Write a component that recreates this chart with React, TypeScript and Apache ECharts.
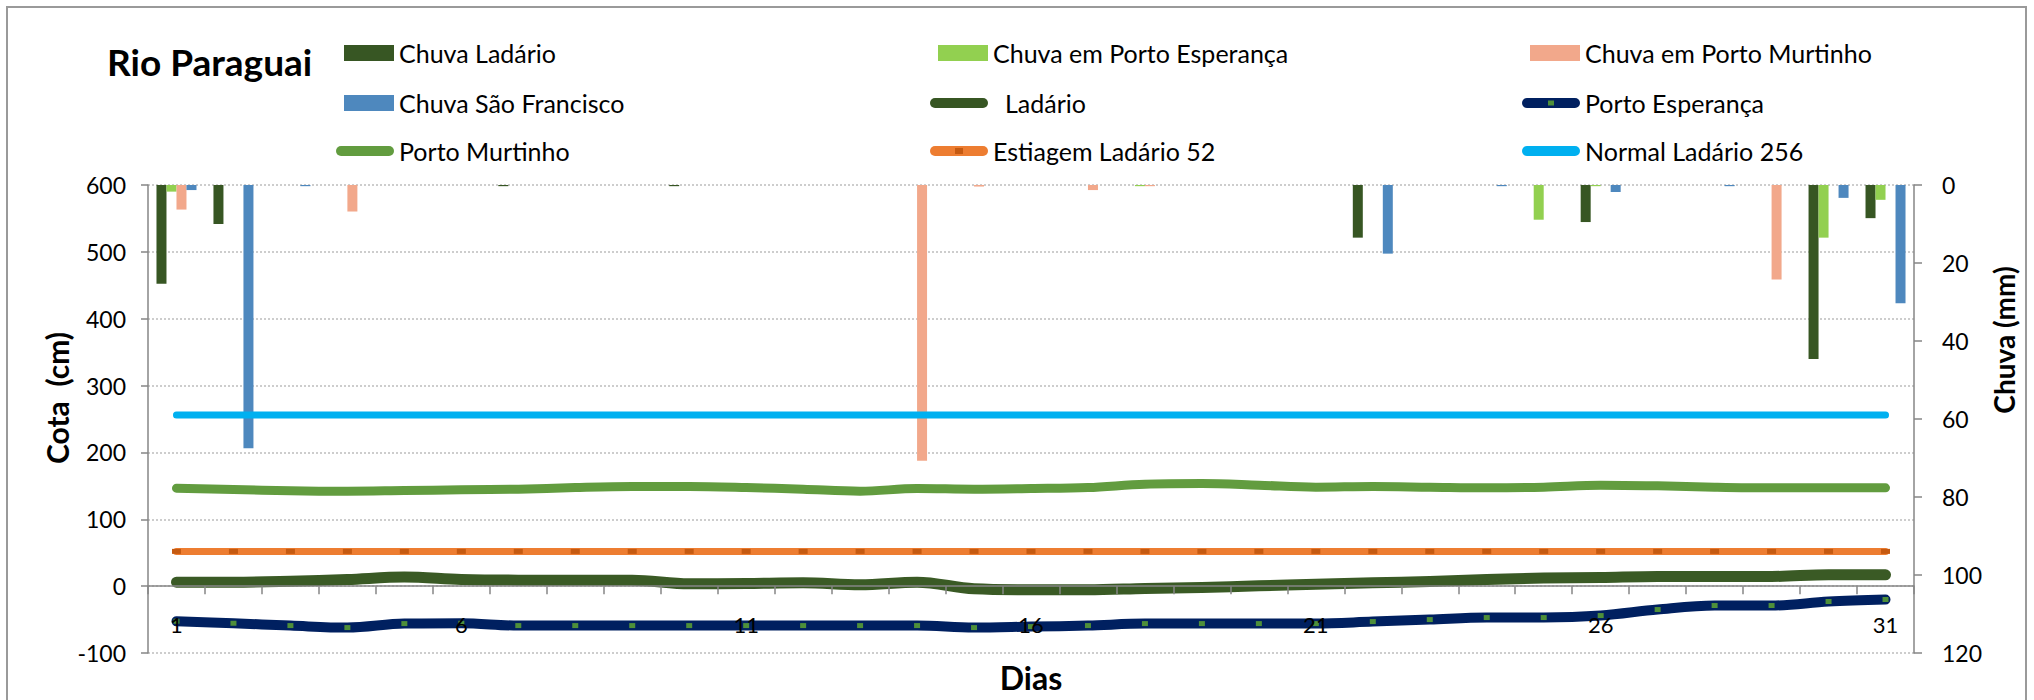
import React, { useEffect, useRef } from "react";
import * as echarts from "echarts";

const days = ["1","2","3","4","5","6","7","8","9","10","11","12","13","14","15","16","17","18","19","20","21","22","23","24","25","26","27","28","29","30","31"];

// Chuva (mm)
const chuvaLadario = [25.3,10,0,0,0,0,0.3,0,0,0.3,0,0,0,0,0,0,0,0,0,0,0,13.5,0,0,0,9.5,0,0,0,44.6,8.5];
const chuvaPortoEsperanca = [1.7,0,0,0,0,0,0,0,0,0,0,0,0,0,0,0,0,0.3,0,0,0,0,0,0,8.9,0.3,0,0,0,13.5,3.8];
const chuvaPortoMurtinho = [6.3,0,0,6.8,0,0,0,0,0,0,0,0,0,70.7,0.4,0,1.3,0.3,0,0,0,0,0,0,0,0,0,0,24.2,0,0];
const chuvaSaoFrancisco = [1.3,67.5,0.3,0,0,0,0,0,0,0,0,0,0,0,0,0,0,0,0,0,0,17.6,0,0.3,0,1.8,0,0.3,0,3.3,30.3];

// Cota (cm)
const ladario = [6,6,7.5,10,13.5,10,9,9,9,3.5,4,5,2,6,-4,-5.5,-5.5,-3.5,-2,0.5,3,5,7,10,12,13,14.5,14.5,14.5,17,17];
const portoEsperanca = [-52.5,-55.5,-59,-62,-56,-55.5,-59,-59,-59,-59,-59,-59,-59,-59,-62,-60.5,-59,-56,-56,-56,-56,-53,-50,-47,-47,-44,-35,-29,-29,-23,-20];
const portoMurtinho = [146.5,144.5,142.5,142,143,144,145,147.5,149,149,147.5,145,142,146,145,146,147.5,152.5,153.5,151,148,149,148,147,148,151,150,148,147,147,147];
const estiagemLadario = [52,52,52,52,52,52,52,52,52,52,52,52,52,52,52,52,52,52,52,52,52,52,52,52,52,52,52,52,52,52,52];
const normalLadario = [256,256,256,256,256,256,256,256,256,256,256,256,256,256,256,256,256,256,256,256,256,256,256,256,256,256,256,256,256,256,256];

const FONT = "Lato";
const PILL = "path://M5,0 H53 A5,5 0 0 1 53,10 H5 A5,5 0 0 1 5,0 Z";

const GRID_TOP = 185;
const GRID_BOTTOM = 47;
const CHART_H = 700;
const COTA_MIN = -100;
const COTA_MAX = 600;

export default function App() {
  const ref = useRef<HTMLDivElement>(null);
  useEffect(() => {
    document.body.style.margin = "0";
    const chart = echarts.init(ref.current!, null, { renderer: "svg" });

    const gridH = CHART_H - GRID_TOP - GRID_BOTTOM;
    const zeroOffset = (gridH * (0 - COTA_MIN)) / (COTA_MAX - COTA_MIN);

    const textCols = [399, 993, 1585];
    const rows = [53, 103, 151];
    const LH = 30;
    const items: [string, number, number, boolean, string][] = [
      ["Chuva Ladário", 0, 0, true, "#375623"],
      ["Chuva em Porto Esperança", 1, 0, true, "#92D050"],
      ["Chuva em Porto Murtinho", 2, 0, true, "#F2A88B"],
      ["Chuva São Francisco", 0, 1, true, "#4E88BE"],
      ["Ladário", 1, 1, false, "#375623"],
      ["Porto Esperança", 2, 1, false, "#002060"],
      ["Porto Murtinho", 0, 2, false, "#629C3F"],
      ["Estiagem Ladário 52", 1, 2, false, "#ED7D31"],
      ["Normal Ladário 256", 2, 2, false, "#00B0F0"],
    ];
    const legends = items.map(([name, c, r, isBar, color]) => {
      const w = isBar ? 50 : 58;
      const h = isBar ? 16 : 10;
      return {
        data: [{ name, icon: isBar ? "rect" : PILL, itemStyle: { color } }],
        left: textCols[c] - 5 - w,
        top: rows[r] - LH / 2,
        itemWidth: w,
        itemHeight: h,
        padding: 0,
        selectedMode: false,
        textStyle: {
          fontFamily: FONT,
          fontSize: 25,
          lineHeight: LH,
          color: "#000",
          padding: name === "Ladário" ? [0, 0, 0, 12] : 0,
        },
      };
    });

    const lineSeries = (name: string, data: number[], color: string, width: number, extra: any = {}) => ({
      name,
      type: "line",
      yAxisIndex: 0,
      data,
      smooth: 0.35,
      symbol: "none",
      z: 5,
      color,
      lineStyle: { color, width, cap: "round", join: "round" },
      ...extra,
    });

    const barSeries = (name: string, data: number[], color: string) => ({
      name,
      type: "bar",
      yAxisIndex: 1,
      data,
      barWidth: 10,
      barGap: "0%",
      itemStyle: { color },
      z: 2,
    });

    const option: any = {
      animation: false,
      backgroundColor: "#fff",
      textStyle: { fontFamily: FONT },
      legend: legends,
      grid: { left: 148, right: 120, top: GRID_TOP, bottom: GRID_BOTTOM, containLabel: false },
      xAxis: {
        type: "category",
        data: days,
        boundaryGap: true,
        position: "bottom",
        offset: -zeroOffset,
        z: 10,
        axisLine: { onZero: false, lineStyle: { color: "#868686", width: 1.5 } },
        axisTick: { show: true, interval: 0, length: 8, lineStyle: { color: "#868686", width: 1.5 } },
        axisLabel: { interval: 4, margin: 27, fontSize: 22, fontFamily: FONT, color: "#000" },
        splitLine: { show: false },
      },
      yAxis: [
        {
          type: "value",
          min: COTA_MIN,
          max: COTA_MAX,
          interval: 100,
          position: "left",
          axisLine: { show: true, lineStyle: { color: "#868686", width: 1.5 } },
          axisTick: { show: true, length: 7, lineStyle: { color: "#868686", width: 1.5 } },
          axisLabel: { margin: 22, fontSize: 23, fontFamily: FONT, color: "#000" },
          splitLine: { show: true, lineStyle: { color: "#bdbdbd", width: 1.5, type: [2, 2] } },
        },
        {
          type: "value",
          min: 0,
          max: 120,
          interval: 20,
          inverse: true,
          position: "right",
          axisLine: { show: true, lineStyle: { color: "#868686", width: 1.5 } },
          axisTick: { show: true, length: 8, lineStyle: { color: "#868686", width: 1.5 } },
          axisLabel: { margin: 28, fontSize: 23, fontFamily: FONT, color: "#000" },
          splitLine: { show: false },
        },
      ],
      series: [
        barSeries("Chuva Ladário", chuvaLadario, "#375623"),
        barSeries("Chuva em Porto Esperança", chuvaPortoEsperanca, "#92D050"),
        barSeries("Chuva em Porto Murtinho", chuvaPortoMurtinho, "#F2A88B"),
        barSeries("Chuva São Francisco", chuvaSaoFrancisco, "#4E88BE"),
        lineSeries("Ladário", ladario, "#3A5A25", 11),
        lineSeries("Porto Esperança", portoEsperanca, "#002060", 10, {
          symbol: "rect",
          symbolSize: [6, 5],
          showAllSymbol: true,
          itemStyle: { color: "#4E8F3A" },
        }),
        lineSeries("Porto Murtinho", portoMurtinho, "#629C3F", 9),
        lineSeries("Estiagem Ladário 52", estiagemLadario, "#ED7D31", 7, {
          symbol: "rect",
          symbolSize: [9, 5],
          showAllSymbol: true,
          itemStyle: { color: "#C55A11" },
        }),
        lineSeries("Normal Ladário 256", normalLadario, "#00B0F0", 7),
      ],
      graphic: [
        {
          type: "rect",
          shape: { x: 7, y: 7, width: 2019, height: 710 },
          style: { fill: "none", stroke: "#9a9a9a", lineWidth: 2 },
          silent: true,
        },
        {
          type: "text",
          x: 107,
          y: 61,
          style: { text: "Rio Paraguai", fontFamily: FONT, fontWeight: "bold", fontSize: 37, fill: "#000", textVerticalAlign: "middle" },
        },
        {
          type: "text",
          x: 57,
          y: 398,
          rotation: Math.PI / 2,
          style: { text: "Cota  (cm)", fontFamily: FONT, fontWeight: "bold", fontSize: 30, fill: "#000", textAlign: "center", textVerticalAlign: "middle" },
        },
        {
          type: "text",
          x: 2004,
          y: 340,
          rotation: Math.PI / 2,
          style: { text: "Chuva (mm)", fontFamily: FONT, fontWeight: "bold", fontSize: 28, fill: "#000", textAlign: "center", textVerticalAlign: "middle" },
        },
        {
          type: "text",
          x: 1031,
          y: 677,
          style: { text: "Dias", fontFamily: FONT, fontWeight: "bold", fontSize: 32, fill: "#000", textAlign: "center", textVerticalAlign: "middle" },
        },
        {
          type: "rect",
          z: 100,
          shape: { x: textCols[2] - 5 - 29 - 3, y: rows[1] - 2.5, width: 6, height: 5 },
          style: { fill: "#4E8F3A" },
        },
        {
          type: "rect",
          z: 100,
          shape: { x: textCols[1] - 5 - 29 - 4, y: rows[2] - 3, width: 8, height: 6 },
          style: { fill: "#C55A11" },
        },
      ],
    };

    chart.setOption(option);
    return () => chart.dispose();
  }, []);
  return <div ref={ref} style={{ width: 2034, height: 700 }} />;
}
